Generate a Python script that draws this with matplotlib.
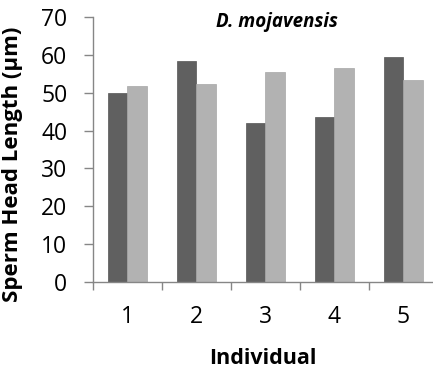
import matplotlib
matplotlib.use('Agg')
import matplotlib.pyplot as plt
import numpy as np

plt.rcParams['font.family'] = ['Open Sans', 'DejaVu Sans']

# Data
individuals = ['1', '2', '3', '4', '5']
series_a = [50.0, 58.4, 42.1, 43.6, 59.4]
series_b = [51.7, 52.3, 55.6, 56.6, 53.5]

DARK = '#606060'
LIGHT = '#b2b2b2'
AXIS = '#868686'

fig = plt.figure(figsize=(4.33, 3.72), dpi=100)
ax = fig.add_axes([93 / 433, (372 - 281.7) / 372, 344.5 / 433, (281.7 - 17.3) / 372])

x = np.arange(len(individuals)) + 0.5
w = 0.283
ax.bar(x - w / 2, series_a, width=w, color=DARK, edgecolor='#555555', linewidth=0.5)
ax.bar(x + w / 2, series_b, width=w, color=LIGHT, edgecolor='#a6a6a6', linewidth=0.5)

ax.set_xlim(0, 5)
ax.set_ylim(0, 70)
ax.set_yticks(range(0, 71, 10))
ax.set_xticks(range(0, 6))
ax.set_xticklabels([])
ax.set_xticks(x, minor=True)
ax.set_xticklabels(individuals, minor=True)
ax.tick_params(axis='x', which='major', direction='out', length=6, width=1, color=AXIS)
ax.tick_params(axis='x', which='minor', length=0, pad=17, labelsize=16.5)
ax.tick_params(axis='y', direction='out', length=6.5, width=1, color=AXIS, labelsize=16.5, pad=12)

for side in ['top', 'right']:
    ax.spines[side].set_visible(False)
for side in ['left', 'bottom']:
    ax.spines[side].set_color(AXIS)
    ax.spines[side].set_linewidth(1)

fig.text(13 / 433, 1 - 164 / 372, 'Sperm Head Length (μm)', rotation=90,
         ha='center', va='center', fontsize=16, fontweight='bold')
fig.text(263 / 433, 1 - 358 / 372, 'Individual', ha='center', va='center',
         fontsize=15.5, fontweight='bold')
fig.text(277 / 433, 1 - 22 / 372, 'D. mojavensis', ha='center', va='center',
         fontsize=13.5, fontweight='bold', style='italic')

fig.savefig('out.png', dpi=100)
